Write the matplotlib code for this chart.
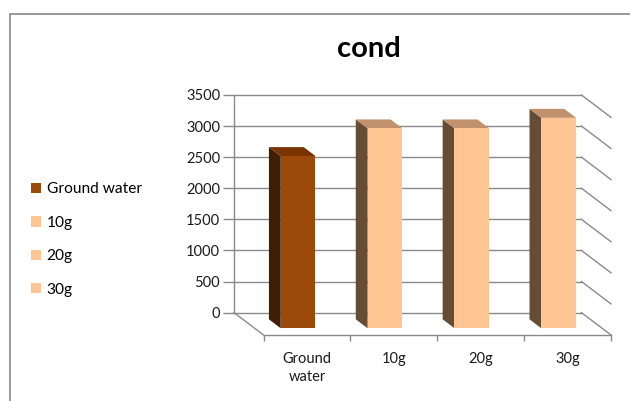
import matplotlib.pyplot as plt
from matplotlib.patches import Polygon, Patch, Rectangle

# conductivity per sample
categories = ['Ground water', '10g', '20g', '30g']
tick_labels = ['Ground\nwater', '10g', '20g', '30g']
cond = [2770, 3215, 3215, 3385]

# face colours per bar: front, left side, top
front_colors = ['#9c4a09', '#ffc593', '#ffc593', '#ffc593']
side_colors = ['#3f1e04', '#654c37', '#654c37', '#654c37']
top_colors = ['#7a3402', '#c0916c', '#c0916c', '#c0916c']

plt.rcParams['font.family'] = ['Lato', 'DejaVu Sans']

W, H = 630, 401
fig = plt.figure(figsize=(W / 100, H / 100), dpi=100)

# oblique depth of the floor (x in category units, y in value units)
DX, DY = 0.34, 360
YMAX, YSTEP = 3500, 500
n = len(categories)

ax = fig.add_axes([234 / W, (H - 335) / H, 377 / W, 240 / H])
ax.set_xlim(0, n + DX)
ax.set_ylim(-DY, YMAX)

grid_kw = dict(color='#8a8a8a', lw=1.0, zorder=1, clip_on=False)
yticks = list(range(0, YMAX + 1, YSTEP))
for v in yticks:
    ax.plot([0, n], [v, v], **grid_kw)                 # back wall
    ax.plot([n, n + DX], [v, v - DY], **grid_kw)       # right side wall
ax.plot([0, DX], [0, -DY], **grid_kw)                  # floor left edge

# 3-D looking columns
f_back, f_front, bw = 0.3, 0.7, 0.4
for i, v in enumerate(cond):
    cx = i + 0.5
    x0f = cx - bw / 2 + f_front * DX
    x1f = cx + bw / 2 + f_front * DX
    yb_f = -f_front * DY
    x0b = cx - bw / 2 + f_back * DX
    x1b = cx + bw / 2 + f_back * DX
    yb_b = -f_back * DY
    side = [(x0b, yb_b), (x0f, yb_f), (x0f, yb_f + v), (x0b, yb_b + v)]
    top = [(x0b, yb_b + v), (x0f, yb_f + v), (x1f, yb_f + v), (x1b, yb_b + v)]
    front = [(x0f, yb_f), (x1f, yb_f), (x1f, yb_f + v), (x0f, yb_f + v)]
    for pts, c in ((side, side_colors[i]), (top, top_colors[i]), (front, front_colors[i])):
        ax.add_patch(Polygon(pts, closed=True, facecolor=c, edgecolor='none',
                             zorder=3, clip_on=False))

# value axis on the back wall
for s in ('top', 'right'):
    ax.spines[s].set_visible(False)
ax.spines['left'].set_bounds(0, YMAX)
ax.spines['left'].set_color('#8a8a8a')
ax.spines['left'].set_linewidth(1.0)
ax.set_yticks(yticks)
ax.tick_params(axis='y', direction='out', length=8, width=1.0, color='#8a8a8a',
               pad=2, labelsize=10.5, labelcolor='#1a1a1a')

# category axis on the front edge of the floor
ax.spines['bottom'].set_position(('data', -DY))
ax.spines['bottom'].set_bounds(DX, n + DX)
ax.spines['bottom'].set_color('#8a8a8a')
ax.spines['bottom'].set_linewidth(1.0)
ax.set_xticks([i + DX for i in range(n + 1)])
ax.set_xticklabels([])
ax.set_xticks([i + 0.5 + DX for i in range(n)], minor=True)
ax.set_xticklabels(tick_labels, minor=True, fontsize=10.5, color='#1a1a1a',
                   linespacing=1.35)
ax.tick_params(axis='x', which='major', direction='out', length=4, width=1.0,
               color='#8a8a8a')
ax.tick_params(axis='x', which='minor', length=0, pad=12)

fig.text(369 / W, 1 - 49 / H, 'cond', ha='center', va='center',
         fontsize=21, fontweight='bold')

handles = [Patch(facecolor=c, edgecolor='none') for c in front_colors]
fig.legend(handles, categories, loc='center left',
           bbox_to_anchor=(17 / W, 1 - 239.5 / H), frameon=False,
           fontsize=11.2, handlelength=0.65, handleheight=0.65,
           handletextpad=0.35, labelspacing=1.25)

# chart area border
fig.patches.append(Rectangle((9.5 / W, -0.1), 1.2, 1 - 14 / H + 0.1,
                             transform=fig.transFigure, fill=False,
                             edgecolor='#888888', lw=1.2))

fig.savefig('out.png', dpi=100)
